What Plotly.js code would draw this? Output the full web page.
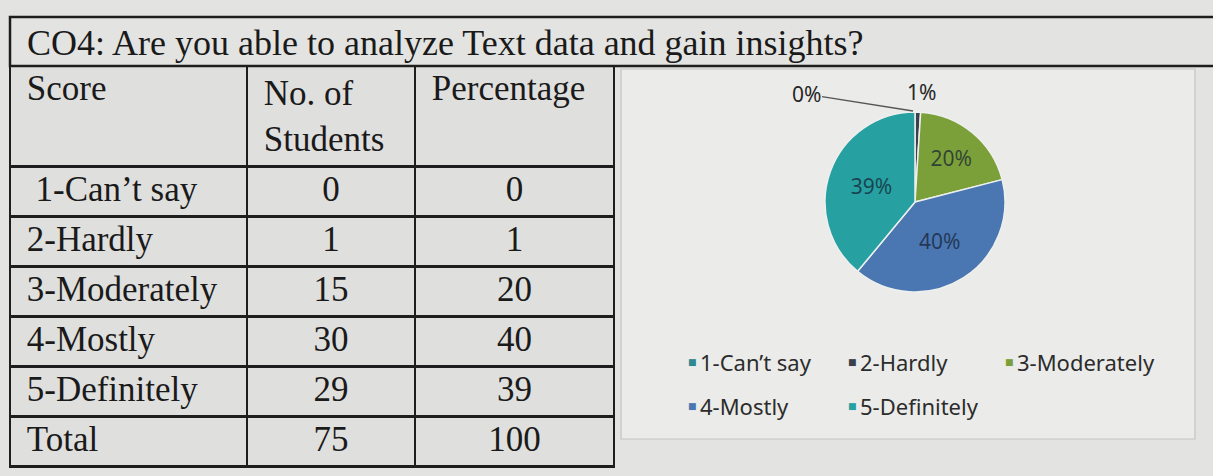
<!DOCTYPE html>
<html>
<head>
<meta charset="utf-8">
<script src="https://cdn.plot.ly/plotly-3.0.1.min.js"></script>
<style>
  html, body { margin: 0; padding: 0; background: #e3e3e1; }
  #chart { width: 1213px; height: 476px; }
</style>
</head>
<body>
<div id="chart"></div>
<script>
// Survey question and response table
const questionTitle = "CO4: Are you able to analyze Text data and gain insights?";
const headerLabels = ["Score", "No. of<br>Students", "Percentage"];
const scores = ["1-Can’t say", "2-Hardly", "3-Moderately", "4-Mostly", "5-Definitely"];
const students = [0, 1, 15, 30, 29];
const percentages = [0, 1, 20, 40, 39];
const totalLabel = "Total";
const totalStudents = 75;
const totalPercent = 100;

// Pie slice and legend colours
const sliceColors = ["#2f8790", "#3b414c", "#7ba03a", "#4a76b2", "#26a0a1"];

const W = 1213, H = 476;
const px = x => x / W;
const py = y => 1 - y / H;

// Geometry of the page blocks (pixels)
const tableLeft = 10, tableRight = 614, titleTop = 17, titleBottom = 66, tableBottom = 471;
const pieLeft = 825, pieRight = 1005, pieTop = 112, pieBottom = 292;
const pieCx = (pieLeft + pieRight) / 2;

const lineColor = "#1e1e1e";
const cellFill = "#dfdfdd";
const serif = "Liberation Serif, Times New Roman, serif";
const sans = "Noto Sans, Lato, sans-serif";

// indent every line of a header label a little from the cell border
const indent = s => s.split("<br>").map(t => "\u00a0" + t).join("<br>");

const tableTrace = {
  type: "table",
  domain: { x: [px(tableLeft), px(tableRight)], y: [py(tableBottom), py(titleBottom)] },
  columnwidth: [237, 168, 199],
  header: {
    values: headerLabels.map(indent),
    align: "left",
    height: 94,
    line: { color: lineColor, width: 2.5 },
    fill: { color: cellFill },
    font: { family: serif, size: 35, color: "#1a1a1a" }
  },
  cells: {
    values: [
      scores.concat([totalLabel]),
      students.concat([totalStudents]),
      percentages.concat([totalPercent])
    ],
    prefix: ["\u00a0", "", ""],
    align: ["left", "center", "center"],
    height: 50,
    line: { color: lineColor, width: 2.5 },
    fill: { color: cellFill },
    font: { family: serif, size: 35, color: "#1a1a1a" }
  }
};

// Slices that are too thin for an inside label get theirs as annotations
const pieTrace = {
  type: "pie",
  labels: scores,
  values: percentages,
  sort: false,
  direction: "clockwise",
  rotation: 0,
  domain: { x: [px(pieLeft), px(pieRight)], y: [py(pieBottom), py(pieTop)] },
  marker: { colors: sliceColors, line: { color: "#eef0ee", width: 1.5 } },
  textinfo: "percent",
  texttemplate: "%{percent:.0%}",
  textposition: percentages.map(v => (v < 5 ? "none" : "inside")),
  insidetextorientation: "horizontal",
  insidetextfont: { family: sans, size: 21, color: "rgba(20,30,50,0.72)" },
  showlegend: false,
  hoverinfo: "label+value+percent"
};

const annotations = [];

// Outside labels for the tiny slices
annotations.push({
  xref: "paper", yref: "paper",
  x: px(pieCx - 2), y: py(pieTop - 1),
  text: percentages[0] + "%",
  showarrow: true, arrowhead: 0, arrowwidth: 1.3, arrowcolor: "#555",
  standoff: 0, ax: -107, ay: -17,
  font: { family: sans, size: 21, color: "#262626" }
});
annotations.push({
  xref: "paper", yref: "paper",
  x: px(921), y: py(92),
  xanchor: "center", yanchor: "middle",
  text: percentages[1] + "%",
  showarrow: false,
  font: { family: sans, size: 21, color: "#262626" }
});

// Legend rows beneath the pie: a square key and its label
const legendCols = [686, 846, 1003];
const legendRows = [362, 406];
scores.forEach((s, i) => {
  const col = i % 3, row = Math.floor(i / 3);
  annotations.push({
    xref: "paper", yref: "paper",
    x: px(legendCols[col]), y: py(legendRows[row]),
    xanchor: "left", yanchor: "middle",
    showarrow: false,
    text: "■",
    font: { family: "DejaVu Sans", size: 9, color: sliceColors[i] }
  });
  annotations.push({
    xref: "paper", yref: "paper",
    x: px(legendCols[col] + 12), y: py(legendRows[row]),
    xanchor: "left", yanchor: "middle",
    showarrow: false,
    text: s,
    font: { family: sans, size: 22, color: "#2c2c2c" }
  });
});

const shapes = [
  // chart area behind the pie
  {
    type: "rect", xref: "paper", yref: "paper", layer: "below",
    x0: px(621), x1: px(1195), y0: py(439), y1: py(69),
    line: { color: "#c4c4c2", width: 1.2 }, fillcolor: "#ebebe9"
  },
  // title row frame
  {
    type: "rect", xref: "paper", yref: "paper",
    x0: px(tableLeft), x1: px(W + 20), y0: py(titleBottom), y1: py(titleTop),
    line: { color: lineColor, width: 2.5 }
  }
];

const layout = {
  width: W, height: H,
  margin: { l: 0, r: 0, t: 0, b: 0, pad: 0 },
  paper_bgcolor: "#e3e3e1",
  plot_bgcolor: "#e3e3e1",
  title: {
    text: questionTitle,
    font: { family: serif, size: 36, color: "#1a1a1a" },
    xref: "container", yref: "container",
    x: px(27), xanchor: "left",
    y: py(42), yanchor: "middle"
  },
  showlegend: false,
  shapes: shapes,
  annotations: annotations
};

Plotly.newPlot("chart", [tableTrace, pieTrace], layout, { displayModeBar: false, staticPlot: true });
</script>
</body>
</html>
